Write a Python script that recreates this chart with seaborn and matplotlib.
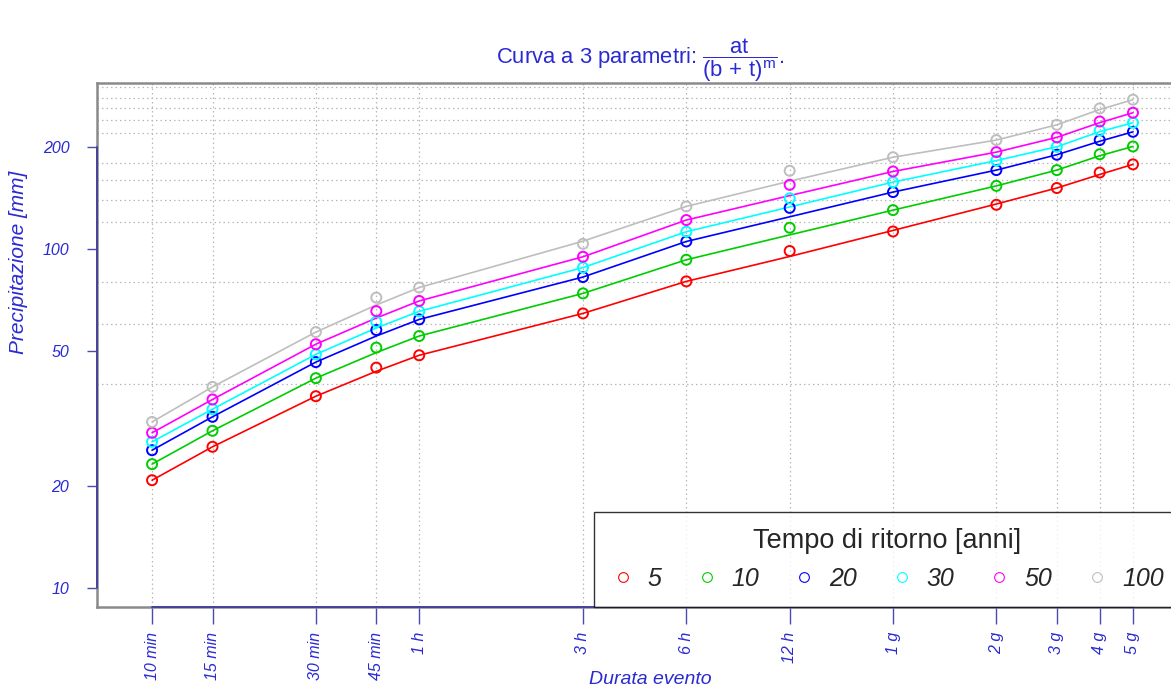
import numpy as np
import pandas as pd
import matplotlib
matplotlib.use("Agg")
import matplotlib.pyplot as plt
from matplotlib.lines import Line2D
from matplotlib.ticker import NullFormatter
import seaborn as sns

# ---------------- data ----------------
durations_h = [1/6, 0.25, 0.5, 0.75, 1, 3, 6, 12, 24, 48, 72, 96, 120]
tick_labels = ['10 min', '15 min', '30 min', '45 min', '1 h', '3 h', '6 h',
               '12 h', '1 g', '2 g', '3 g', '4 g', '5 g']
return_periods = ['5', '10', '20', '30', '50', '100']

obs_5 = [20.8, 26.1, 36.8, 44.7, 48.6, 64.6, 80.3, 98.7, 112.7, 135.1, 151.4, 168.2, 177.8]
obs_10 = [23.2, 29.1, 41.6, 51.2, 55.4, 74.0, 93.0, 115.6, 130.3, 153.6, 171.0, 190.4, 200.8]
obs_20 = [25.5, 32.0, 46.4, 57.7, 62.0, 82.7, 105.3, 132.3, 147.3, 171.0, 189.8, 209.7, 221.8]
obs_30 = [27.0, 33.7, 48.9, 61.0, 65.5, 88.2, 112.5, 141.1, 157.6, 182.4, 200.4, 223.7, 235.8]
obs_50 = [28.7, 36.0, 52.4, 65.6, 70.3, 94.9, 121.8, 154.7, 169.4, 193.2, 213.6, 237.9, 252.5]
obs_100 = [30.9, 39.2, 56.9, 71.9, 77.0, 103.6, 133.6, 170.2, 186.6, 209.7, 232.6, 260.0, 275.9]

fit_5 = [20.8, 26.1, 36.8, 43.6, 48.6, 64.6, 80.3, 95.1, 113.5, 135.8, 151.4, 166.0, 177.8]
fit_10 = [23.2, 29.1, 41.6, 49.5, 55.4, 74.0, 93.0, 110.1, 130.3, 153.6, 171.0, 188.5, 200.8]
fit_20 = [25.5, 32.0, 46.4, 55.4, 62.0, 82.7, 105.3, 124.5, 147.3, 171.0, 189.8, 208.0, 221.8]
fit_30 = [27.0, 33.7, 48.9, 58.5, 65.5, 88.2, 112.5, 133.1, 157.6, 182.4, 200.4, 222.0, 235.8]
fit_50 = [28.7, 36.0, 52.4, 62.6, 70.3, 94.9, 121.8, 143.8, 169.4, 193.2, 213.6, 236.0, 252.5]
fit_100 = [30.9, 39.2, 56.9, 68.4, 77.0, 105.5, 133.6, 158.6, 186.6, 209.7, 232.6, 258.0, 275.9]

y_ticks = [10, 20, 50, 100, 200]
grid_y = [20, 40, 60, 80, 100, 120, 140, 160, 180, 200, 220, 240, 260, 280, 300]

colors = ['#FF0000', '#00CD00', '#0000FF', '#00FFFF', '#FF00FF', '#BEBEBE']

obs_all = [obs_5, obs_10, obs_20, obs_30, obs_50, obs_100]
fit_all = [fit_5, fit_10, fit_20, fit_30, fit_50, fit_100]

rows_obs, rows_fit = [], []
for T, ob, ft in zip(return_periods, obs_all, fit_all):
    for d, o, f in zip(durations_h, ob, ft):
        rows_obs.append({'durata': d, 'prec': o, 'T': T})
        rows_fit.append({'durata': d, 'prec': f, 'T': T})
df_obs = pd.DataFrame(rows_obs)
df_fit = pd.DataFrame(rows_fit)

# ---------------- style ----------------
sns.set_theme(style='white')
plt.rcParams['font.family'] = ['Liberation Sans', 'DejaVu Sans']
plt.rcParams['mathtext.fontset'] = 'custom'
plt.rcParams['mathtext.rm'] = 'Liberation Sans'
plt.rcParams['mathtext.it'] = 'Liberation Sans:italic'

txt_blue = '#2a2ad2'
tick_blue = '#4a4ab0'
grid_col = '#b8b8b8'

W, H = 1171, 692
left_px, right_px, top_px, bot_px = 97, 1180, 83, 607
fig = plt.figure(figsize=(W / 100, H / 100), dpi=100)
ax = fig.add_axes([left_px / W, 1 - bot_px / H, (right_px - left_px) / W, (bot_px - top_px) / H])
ax.set_xscale('log')
ax.set_yscale('log')

sns.lineplot(data=df_fit, x='durata', y='prec', hue='T', hue_order=return_periods,
             palette=colors, legend=False, linewidth=1.2, sort=False, ax=ax, zorder=3)
sns.scatterplot(data=df_obs, x='durata', y='prec', hue='T', hue_order=return_periods,
                palette=colors, legend=False, s=52, marker='o', linewidth=1.4,
                ax=ax, zorder=4)
coll = ax.collections[-1]
fc = coll.get_facecolors()
coll.set_edgecolors(fc)
coll.set_facecolors('none')

ax.set_xlim(0.1152, 164.5)
ax.set_ylim(8.79, 309)

ax.set_xticks(durations_h)
ax.set_xticklabels(tick_labels, rotation=90, fontsize=11.5, style='italic', color=txt_blue)
ax.xaxis.set_minor_formatter(NullFormatter())
ax.tick_params(axis='x', which='minor', length=0)

ax.set_yticks(y_ticks)
ax.set_yticklabels([str(v) for v in y_ticks], fontsize=11.5, style='italic', color=txt_blue)
ax.set_yticks(grid_y, minor=True)
ax.yaxis.set_minor_formatter(NullFormatter())
ax.tick_params(axis='y', which='minor', length=0)

ax.tick_params(axis='x', which='major', direction='out', length=12, width=1,
               color=tick_blue, pad=6, bottom=True)
ax.tick_params(axis='y', which='major', direction='out', length=7, width=1,
               color=tick_blue, pad=13, left=True)

ax.grid(False)
ax.grid(True, which='major', axis='x', color=grid_col, linestyle=(0, (1.2, 2.4)), linewidth=0.9)
ax.grid(True, which='minor', axis='y', color=grid_col, linestyle=(0, (1.2, 2.4)), linewidth=0.9)
ax.set_axisbelow(True)

for sp in ax.spines.values():
    sp.set_color('#8a8a8a')
    sp.set_linewidth(1.8)
# R-style axis lines spanning first to last tick
ax.plot([0, 0], [min(y_ticks), max(y_ticks)], transform=ax.get_yaxis_transform(),
        color='#3c3c9a', lw=1.3, clip_on=False, zorder=6)
ax.plot([min(durations_h), max(durations_h)], [0, 0], transform=ax.get_xaxis_transform(),
        color='#3c3c9a', lw=1.3, clip_on=False, zorder=6)

ax.set_xlabel('Durata evento', fontsize=14, style='italic', color=txt_blue)
ax.xaxis.set_label_coords((650 - left_px) / (right_px - left_px), (bot_px - 671) / (bot_px - top_px))
ax.set_ylabel('Precipitazione [mm]', fontsize=15, style='italic', color=txt_blue)
ax.yaxis.set_label_coords((28 - left_px) / (right_px - left_px), (bot_px - 262) / (bot_px - top_px))

fig.text(640 / W, 1 - 60 / H,
         r'Curva a 3 parametri: $\dfrac{\mathrm{at}}{(\mathrm{b}\,+\,\mathrm{t})^{\mathrm{m}}}$.',
         ha='center', va='center', fontsize=15.8, color=txt_blue)

handles = [Line2D([], [], marker='o', linestyle='none', markersize=7,
                  markerfacecolor='none', markeredgecolor=c, markeredgewidth=0.8)
           for c in colors]
leg_x0 = (594 - left_px) / (right_px - left_px)
leg_w = (right_px - 594) / (right_px - left_px)
leg = ax.legend(handles, return_periods, title='Tempo di ritorno [anni]', ncol=6,
                loc='lower left', bbox_to_anchor=(leg_x0, 0, leg_w, 0.2), mode='expand',
                borderaxespad=0, frameon=True, fancybox=False,
                prop={'style': 'italic', 'size': 18}, title_fontsize=19.5,
                handlelength=1.0, handletextpad=0.5, columnspacing=1.0,
                borderpad=0.65)
leg.get_frame().set_edgecolor('black')
leg.get_frame().set_linewidth(1.0)
leg.set_zorder(10)

fig.savefig('out.png', dpi=100)
